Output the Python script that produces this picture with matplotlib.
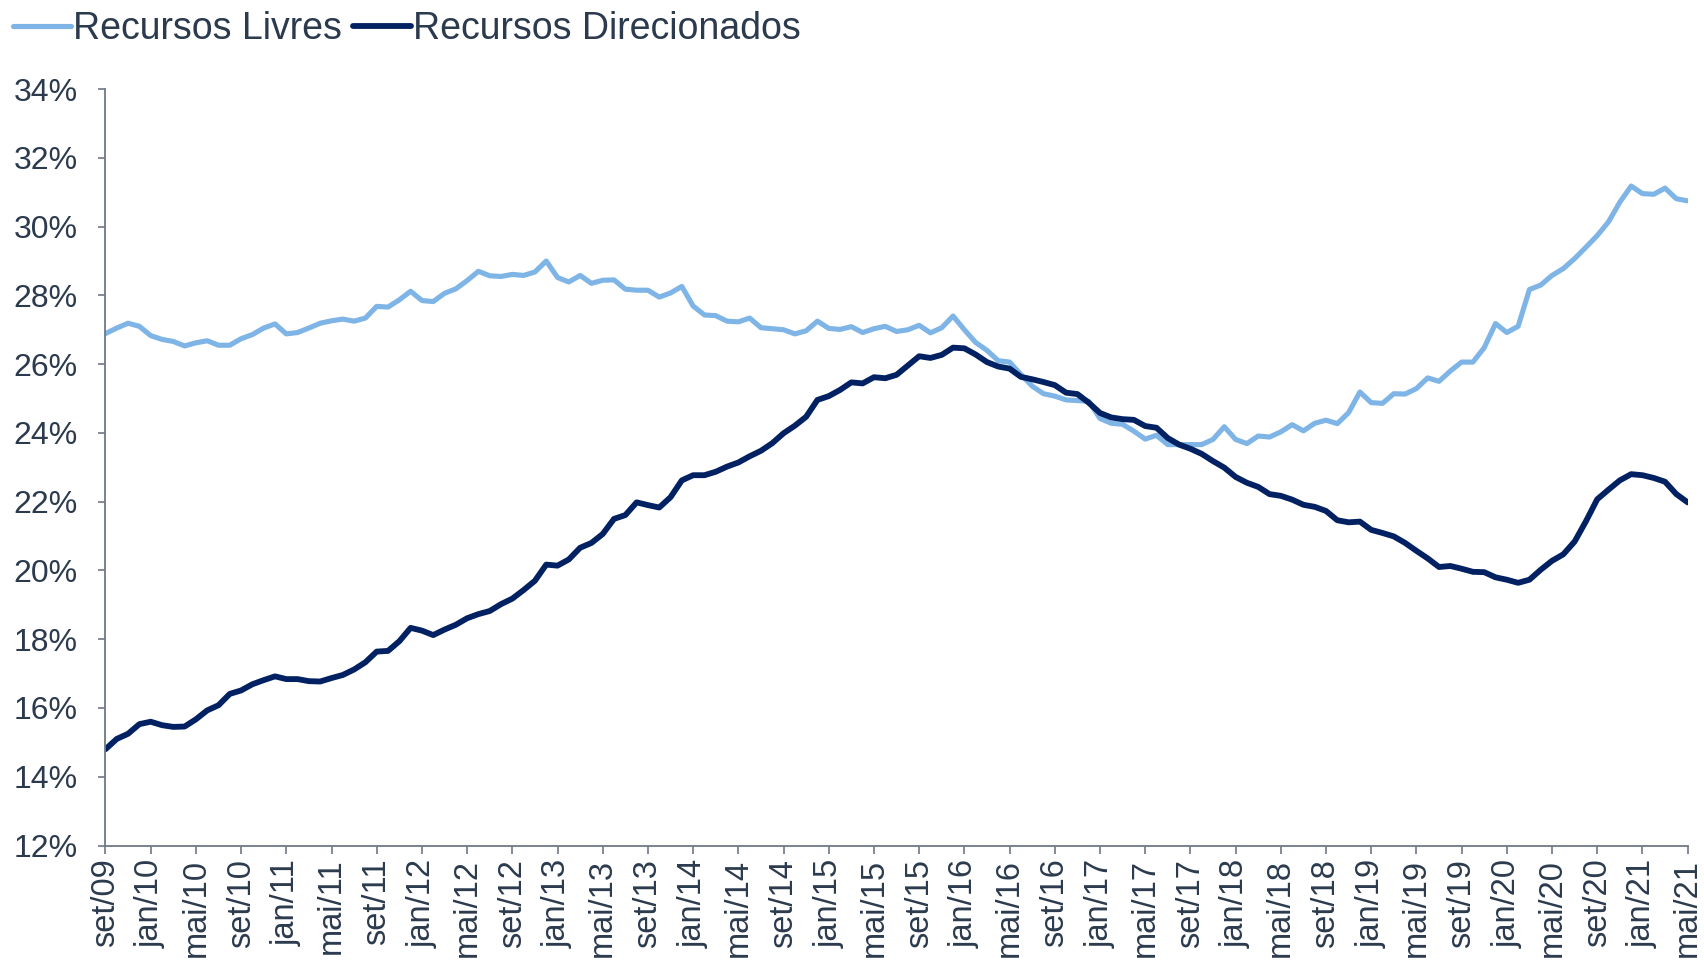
import matplotlib
matplotlib.use('Agg')
import matplotlib.pyplot as plt
from matplotlib.ticker import FixedLocator, FuncFormatter

# ---------------- data ----------------
meses = ['jan', 'fev', 'mar', 'abr', 'mai', 'jun', 'jul', 'ago', 'set', 'out', 'nov', 'dez']
ano_inicio, mes_inicio, n_pontos = 2009, 9, 141
categorias = []
for i in range(n_pontos):
    k = mes_inicio - 1 + i
    categorias.append(f"{meses[k % 12]}/{(ano_inicio + k // 12) % 100:02d}")

livres = [
    26.89, 27.05, 27.19, 27.10, 26.83, 26.72, 26.66, 26.53, 26.62, 26.68,
    26.55, 26.55, 26.74, 26.86, 27.05, 27.17, 26.88, 26.92, 27.05, 27.19,
    27.26, 27.31, 27.25, 27.34, 27.68, 27.66, 27.87, 28.12, 27.85, 27.82,
    28.06, 28.19, 28.43, 28.70, 28.57, 28.55, 28.61, 28.58, 28.68, 29.00,
    28.52, 28.39, 28.58, 28.35, 28.44, 28.45, 28.18, 28.15, 28.15, 27.95,
    28.07, 28.26, 27.69, 27.43, 27.41, 27.25, 27.23, 27.34, 27.06, 27.03,
    27.00, 26.88, 26.97, 27.25, 27.04, 27.01, 27.09, 26.92, 27.03, 27.10,
    26.95, 27.00, 27.13, 26.91, 27.06, 27.40, 27.00, 26.63, 26.40, 26.10,
    26.06, 25.70, 25.36, 25.14, 25.07, 24.96, 24.94, 24.92, 24.42, 24.28,
    24.25, 24.05, 23.82, 23.93, 23.66, 23.66, 23.66, 23.66, 23.81, 24.18,
    23.81, 23.69, 23.91, 23.88, 24.03, 24.24, 24.06, 24.28, 24.37, 24.27,
    24.59, 25.19, 24.88, 24.86, 25.14, 25.13, 25.29, 25.60, 25.50, 25.80,
    26.06, 26.06, 26.48, 27.18, 26.92, 27.10, 28.17, 28.30, 28.58, 28.78,
    29.07, 29.40, 29.74, 30.14, 30.71, 31.18, 30.96, 30.94, 31.12, 30.81,
    30.75,
]

direcionados = [
    14.80, 15.10, 15.25, 15.53, 15.60, 15.50, 15.45, 15.46, 15.67, 15.93,
    16.08, 16.41, 16.51, 16.69, 16.81, 16.92, 16.84, 16.84, 16.78, 16.77,
    16.87, 16.96, 17.12, 17.33, 17.64, 17.66, 17.94, 18.33, 18.25, 18.12,
    18.28, 18.42, 18.61, 18.73, 18.82, 19.02, 19.18, 19.43, 19.70, 20.17,
    20.14, 20.32, 20.66, 20.80, 21.06, 21.50, 21.61, 21.98, 21.90, 21.83,
    22.13, 22.62, 22.77, 22.77, 22.87, 23.02, 23.14, 23.32, 23.48, 23.70,
    23.99, 24.21, 24.47, 24.96, 25.07, 25.25, 25.47, 25.44, 25.62, 25.59,
    25.69, 25.96, 26.23, 26.18, 26.27, 26.48, 26.46, 26.28, 26.06, 25.93,
    25.87, 25.63, 25.56, 25.48, 25.39, 25.17, 25.13, 24.88, 24.58, 24.45,
    24.40, 24.38, 24.20, 24.15, 23.85, 23.66, 23.54, 23.39, 23.18, 22.99,
    22.72, 22.55, 22.43, 22.22, 22.17, 22.06, 21.91, 21.85, 21.73, 21.46,
    21.40, 21.42, 21.18, 21.09, 20.99, 20.80, 20.57, 20.35, 20.10, 20.13,
    20.05, 19.96, 19.95, 19.80, 19.73, 19.64, 19.73, 20.02, 20.28, 20.47,
    20.84, 21.43, 22.07, 22.35, 22.62, 22.80, 22.77, 22.69, 22.58, 22.22,
    21.98,
]

yticks = [12, 14, 16, 18, 20, 22, 24, 26, 28, 30, 32, 34]
passo_rotulo = 4

# ---------------- style ----------------
cor_livres = '#7fb5e6'
cor_direc = '#022162'
cor_texto = '#2b3a4d'
cor_eixo = '#6f7886'
fonte = ['Liberation Sans', 'DejaVu Sans']
fonte_leg = ['Liberation Sans Narrow', 'Liberation Sans', 'DejaVu Sans']

fig = plt.figure(figsize=(17.04, 9.63), dpi=100)
ax = fig.add_axes([0.0619, 0.122, 0.9285, 0.7855])

x = list(range(len(categorias)))
l1, = ax.plot(x, livres, color=cor_livres, lw=3.7, solid_joinstyle='round',
              solid_capstyle='round', label='Recursos Livres')
l2, = ax.plot(x, direcionados, color=cor_direc, lw=4.2, solid_joinstyle='round',
              solid_capstyle='round', label='Recursos Direcionados')

ax.set_xlim(0, len(categorias) - 1)
ax.set_ylim(12, 34)

ax.yaxis.set_major_locator(FixedLocator(yticks))
ax.yaxis.set_major_formatter(FuncFormatter(lambda v, p: f"{v:.0f}%"))

pos = list(range(0, len(categorias), passo_rotulo))
ax.set_xticks(pos)
ax.set_xticklabels([categorias[i] for i in pos], rotation=90, ha='center', va='top')

for s in ['top', 'right']:
    ax.spines[s].set_visible(False)
for s in ['left', 'bottom']:
    ax.spines[s].set_color(cor_eixo)
    ax.spines[s].set_linewidth(1.3)

ax.tick_params(axis='y', direction='out', length=5, width=1.2, color=cor_eixo,
               pad=15, labelsize=23, labelcolor=cor_texto)
ax.tick_params(axis='x', direction='out', length=6, width=1.2, color=cor_eixo,
               pad=3.5, labelsize=23.5, labelcolor=cor_texto)
for t in ax.get_xticklabels() + ax.get_yticklabels():
    t.set_family(fonte)

leg = fig.legend(handles=[l1, l2], loc='center left', bbox_to_anchor=(0.0077, 0.970),
                 ncol=2, frameon=False, borderpad=0, borderaxespad=0,
                 handlelength=1.55, handletextpad=0.05, columnspacing=0.3,
                 prop={'family': fonte_leg, 'size': 27})
for t in leg.get_texts():
    t.set_color(cor_texto)

fig.savefig('out.png', dpi=100)
